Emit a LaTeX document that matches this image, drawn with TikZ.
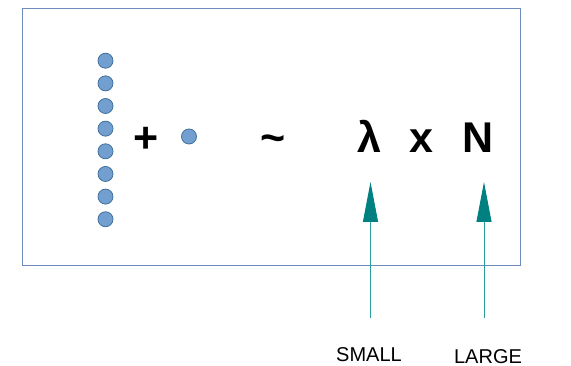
\documentclass[tikz,border=0pt]{standalone}
\usepackage{fontspec}
\setmainfont{Liberation Sans}
\usetikzlibrary{arrows.meta}
\definecolor{dotfill}{RGB}{114,159,207}
\definecolor{dotline}{RGB}{65,113,156}
\definecolor{boxline}{RGB}{110,140,185}
\definecolor{tealc}{RGB}{0,128,128}
\definecolor{tealline}{RGB}{40,160,160}
\begin{document}
\begin{tikzpicture}[x=1pt,y=-1pt,
  dot/.style={circle,fill=dotfill,draw=dotline,line width=0.8pt,minimum size=15pt,inner sep=0pt},
  bigsym/.style={font=\fontsize{43}{50}\selectfont\bfseries,anchor=base,inner sep=0pt},
  lbl/.style={font=\fontsize{20}{24}\selectfont,anchor=base,inner sep=0pt},
  uparrow/.style={draw=tealline,line width=1pt,-{Triangle[width=15pt,length=40pt,fill=tealc,color=tealc]}}]
\useasboundingbox (0,0) rectangle (571,366);
\node[draw=boxline,line width=0.8pt,minimum width=498pt,minimum height=257pt,inner sep=0pt,anchor=north west] (box) at (21.5,8) {};
\foreach \i in {0,...,7} {
  \node[dot] (d\i) at (105.5,{60.7+22.65*\i}) {};
}
\node[bigsym] (plus) at (146,153) {+};
\node[dot] (single) at (189,136.5) {};
\node[bigsym] (tilde) at (273,153) {\char"007E};
\node[bigsym] (lambda) at (369.5,153) {λ};
\node[bigsym] (times) at (421,153) {x};
\node[bigsym] (N) at (478,153) {N};
\node[lbl] (small) at (369,361.5) {SMALL};
\node[lbl] (large) at (488,363) {LARGE};
\coordinate (a1s) at (370.5,318);
\coordinate (a1e) at (370.5,182);
\coordinate (a2s) at (484,318);
\coordinate (a2e) at (484,182);
\draw[uparrow] (a1s) -- (a1e);
\draw[uparrow] (a2s) -- (a2e);
\end{tikzpicture}
\end{document}
